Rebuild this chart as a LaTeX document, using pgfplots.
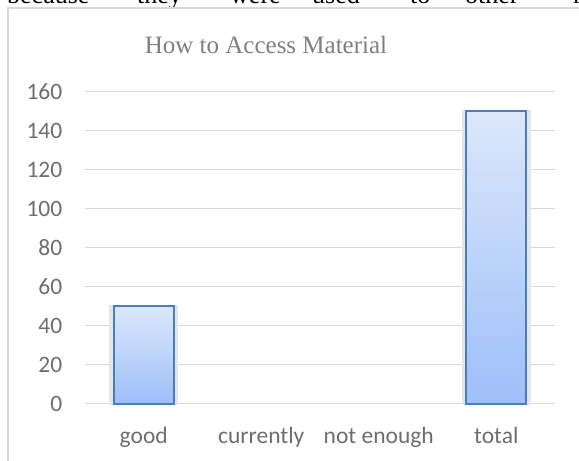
\documentclass[border=0pt]{standalone}
\usepackage{pgfplots}
\pgfplotsset{compat=1.18}
\usepackage{fontspec}
\setmainfont{Liberation Serif}
\newfontfamily\calibri{Carlito}
\definecolor{gridc}{HTML}{D9D9D9}
\definecolor{tickc}{HTML}{6E6E6E}
\definecolor{titlec}{HTML}{7F7F7F}
\definecolor{bartop}{HTML}{DCE7FB}
\definecolor{barbot}{HTML}{9EBFF8}
\definecolor{barline}{HTML}{4A7EBB}
\definecolor{shadowc}{HTML}{E6E6E6}
\begin{document}
\begin{tikzpicture}
\useasboundingbox (0bp,0bp) rectangle (579bp,-461bp);
\clip (0bp,0bp) rectangle (579bp,-461bp);
% cut-off body text above the chart
\begin{scope}[every node/.style={anchor=base west, inner sep=0pt, font=\fontsize{26bp}{30bp}\selectfont}]
\node at (7bp,-3.5bp) {because};
\node at (137bp,-3.5bp) {they};
\node at (230bp,-3.5bp) {were};
\node at (312bp,-3.5bp) {used};
\node at (410bp,-3.5bp) {to};
\node at (465bp,-3.5bp) {other};
\node at (573bp,-3.5bp) {r};
\end{scope}
% chart frame
\draw[gridc, line width=1.5bp] (8bp,-470bp) -- (8bp,-8bp) -- (590bp,-8bp);
% title
\node[anchor=base, inner sep=0pt, text=titlec, font=\fontsize{25bp}{30bp}\selectfont] at (266bp,-53bp) {How to Access Material};
\begin{axis}[
  at={(85bp,-403.7bp)}, anchor=south west,
  scale only axis, width=470bp, height=312bp,
  xmin=-0.5, xmax=3.5, ymin=0, ymax=160,
  xtick={0,1,2,3},
  xticklabels={good,currently,not enough,total},
  ytick={0,20,...,160},
  ymajorgrids, grid style={gridc, line width=1.3bp},
  axis line style={draw=none},
  major tick length=0pt,
  /pgf/number format/assume math mode=true,
  tick label style={font=\calibri\fontsize{23.5bp}{28bp}\selectfont, text=tickc},
  yticklabel style={anchor=east, xshift=-22.5bp, inner sep=0pt},
  xticklabel style={anchor=base, yshift=-39.5bp, inner sep=0pt},
  clip=false,
  barstyle/.style={ybar, bar width=60bp, bar shift=0pt, draw=barline, line width=1.8bp,
    top color=bartop, bottom color=barbot},
]
\addplot[ybar, bar width=66bp, bar shift=0pt, fill=shadowc, draw=shadowc, line width=3bp,
  restrict y to domain=1:1000]
  coordinates {(0,50) (1,0) (2,0) (3,150)};
% one plot per bar so each bar carries its own gradient
\addplot[barstyle] coordinates {(0,50)};
\addplot[barstyle] coordinates {(3,150)};
\end{axis}
\end{tikzpicture}
\end{document}
